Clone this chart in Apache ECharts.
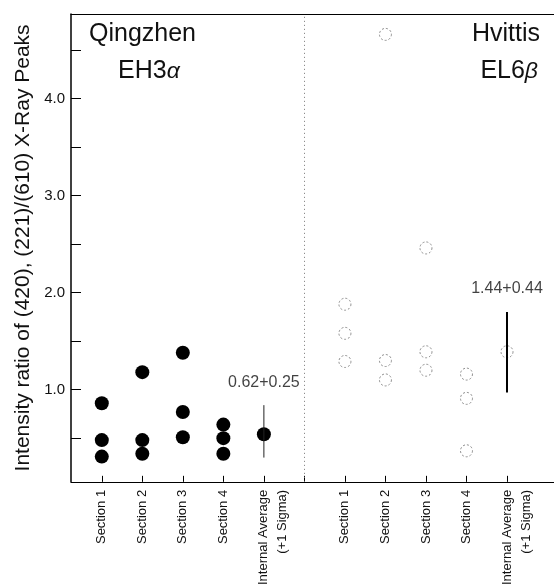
<!DOCTYPE html>
<html><head><meta charset="utf-8">
<script src="https://cdn.jsdelivr.net/npm/echarts@6/dist/echarts.min.js"></script>
<style>html,body{margin:0;padding:0;background:#fff}#c{width:554px;height:588px}</style>
</head><body><div id="c"></div>
<script>
// ---- data ----
const categories = ['Section 1', 'Section 2', 'Section 3', 'Section 4', 'Internal Average\n(+1 Sigma)'];
const qingzhenSections = [[0.86, 0.48, 0.31], [1.18, 0.48, 0.34], [1.38, 0.77, 0.51], [0.64, 0.50, 0.34]];
const qingzhenAverage = 0.54;
const qingzhenRange = [0.30, 0.84];
const qingzhenNote = '0.62+0.25';
const hvittisSections = [[1.88, 1.58, 1.29], [4.66, 1.30, 1.10], [2.46, 1.39, 1.20], [1.16, 0.91, 0.37]];
const hvittisAverage = 1.39;
const hvittisRange = [0.97, 1.80];
const hvittisNote = '1.44+0.44';
const yTickValues = [0.5, 1, 1.5, 2, 2.5, 3, 3.5, 4, 4.5];
const yLabelValues = [1, 2, 3, 4];
const yTitle = 'Intensity ratio of (420), (221)/(610) X-Ray Peaks';

// ---- layout (slots on the x axis) ----
const leftStart = 0, rightStart = 6, dividerSlot = 5;
const FONT = "'Liberation Sans', Arial, Helvetica, sans-serif";

function sectionPoints(sections, start) {
  const pts = [];
  sections.forEach((vals, i) => vals.forEach(v => pts.push([start + i, v])));
  return pts;
}
const avgSlot = (start) => start + categories.length - 1;

const xTickValues = [];
const xLabelValues = [];
for (let i = 0; i < categories.length; i++) { xTickValues.push(leftStart + i); xLabelValues.push(leftStart + i); }
xTickValues.push(dividerSlot);
for (let i = 0; i < categories.length; i++) { xTickValues.push(rightStart + i); xLabelValues.push(rightStart + i); }

function xLabel(v) {
  const idx = v >= rightStart ? v - rightStart : v - leftStart;
  const t = categories[idx];
  return t.indexOf('\n') >= 0 ? '\n' + t : t;
}

const chart = echarts.init(document.getElementById('c'), null, { renderer: 'canvas' });
const option = {
  animation: false,
  backgroundColor: '#fff',
  textStyle: { fontFamily: FONT, color: '#000' },
  title: [
    { text: 'Qingzhen', left: 89, top: 22, padding: 0, textStyle: { fontFamily: FONT, fontSize: 25, fontWeight: 'normal', color: '#111' } },
    { text: 'EH3{g|α}', left: 118, top: 59, padding: 0, textStyle: { fontFamily: FONT, fontSize: 25, fontWeight: 'normal', color: '#111', rich: { g: { fontFamily: FONT, fontSize: 23, fontStyle: 'italic', color: '#111' } } } },
    { text: 'Hvittis', right: 14, top: 22, padding: 0, textStyle: { fontFamily: FONT, fontSize: 25, fontWeight: 'normal', color: '#111' } },
    { text: 'EL6{g|β}', right: 16, top: 59, padding: 0, textStyle: { fontFamily: FONT, fontSize: 25, fontWeight: 'normal', color: '#111', rich: { g: { fontFamily: FONT, fontSize: 23, fontStyle: 'italic', color: '#111' } } } }
  ],
  grid: { left: 71, right: 0, top: 14, bottom: 106, containLabel: false },
  xAxis: [
    {
      type: 'value', min: -0.76, max: 11.16,
      axisLine: { show: true, onZero: false, lineStyle: { color: '#000', width: 1 } },
      axisTick: { show: true, inside: true, length: 6, customValues: xTickValues, lineStyle: { color: '#000' } },
      axisLabel: {
        show: true, rotate: 90, margin: 8, fontSize: 13, fontFamily: FONT, color: '#111', lineHeight: 19,
        customValues: xLabelValues, formatter: xLabel
      },
      splitLine: { show: false }
    },
    {
      type: 'value', position: 'top', min: -0.76, max: 11.16,
      axisLine: { show: true, onZero: false, lineStyle: { color: '#000', width: 1 } },
      axisTick: { show: false }, axisLabel: { show: false }, splitLine: { show: false }
    }
  ],
  yAxis: {
    type: 'value', min: 0.05, max: 4.87,
    name: yTitle, nameLocation: 'middle', nameGap: 37, nameRotate: 90,
    nameTextStyle: { fontFamily: FONT, fontSize: 21, color: '#111' },
    axisLine: { show: true, onZero: false, lineStyle: { color: '#000', width: 1.5 } },
    axisTick: { show: true, inside: true, length: 10, customValues: yTickValues, lineStyle: { color: '#000' } },
    axisLabel: { show: true, margin: 6, fontSize: 15, fontFamily: FONT, color: '#111', customValues: yLabelValues, formatter: v => v.toFixed(1) },
    splitLine: { show: false }
  },
  series: [
    {
      type: 'line', name: 'divider', data: [], silent: true,
      markLine: {
        silent: true, symbol: 'none', label: { show: false },
        lineStyle: { type: [1, 3], color: '#777', width: 1 },
        data: [{ xAxis: dividerSlot }]
      }
    },
    {
      type: 'line', name: 'qErr', data: [[avgSlot(leftStart), qingzhenRange[0]], [avgSlot(leftStart), qingzhenRange[1]]],
      symbol: 'none', lineStyle: { color: '#222', width: 1 }, silent: true
    },
    {
      type: 'line', name: 'hErr', data: [[avgSlot(rightStart), hvittisRange[0]], [avgSlot(rightStart), hvittisRange[1]]],
      symbol: 'none', lineStyle: { color: '#000', width: 2 }, silent: true
    },
    {
      type: 'scatter', name: 'Qingzhen',
      data: sectionPoints(qingzhenSections, leftStart).concat([[avgSlot(leftStart), qingzhenAverage]]),
      symbol: 'circle', symbolSize: 14, itemStyle: { color: '#000', opacity: 1 }
    },
    {
      type: 'scatter', name: 'Hvittis',
      data: sectionPoints(hvittisSections, rightStart).concat([[avgSlot(rightStart), hvittisAverage]]),
      symbol: 'circle', symbolSize: 12,
      itemStyle: { color: 'rgba(0,0,0,0)', opacity: 1, borderColor: '#8c8c8c', borderWidth: 1, borderType: [2, 2] }
    },
    {
      type: 'scatter', name: 'notes', symbolSize: 0, silent: true,
      data: [
        { value: [avgSlot(leftStart), qingzhenRange[1]], label: { formatter: qingzhenNote } },
        { value: [avgSlot(rightStart), hvittisRange[1]], label: { formatter: hvittisNote } }
      ],
      label: { show: true, position: 'top', distance: 15, fontSize: 16, fontFamily: FONT, color: '#111' }
    }
  ]
};
chart.setOption(option);
</script>
</body></html>
